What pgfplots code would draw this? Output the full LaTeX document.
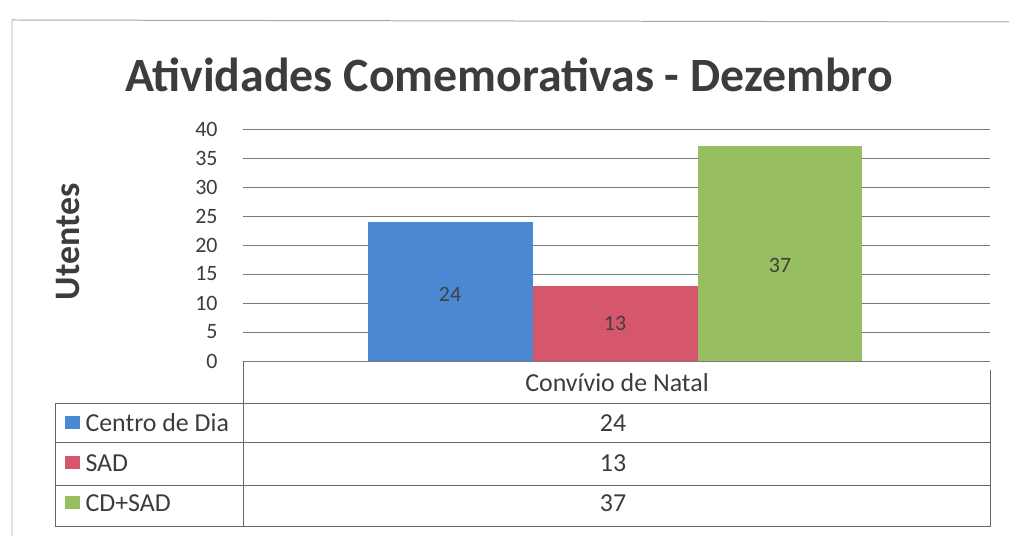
\documentclass[border=0pt]{standalone}
\usepackage{pgfplots}
\pgfplotsset{compat=1.18}
\usepackage{fontspec}
\setmainfont{Carlito}
\definecolor{cdblue}{RGB}{74,136,212}
\definecolor{sadred}{RGB}{214,86,108}
\definecolor{cdsadgreen}{RGB}{152,190,98}
\definecolor{txt}{RGB}{60,60,60}
\definecolor{gridc}{RGB}{120,120,120}
\begin{document}
\begin{tikzpicture}[x=1bp,y=1bp]
\useasboundingbox (0,0) rectangle (1009,536);
% outer frame (scan)
\draw[gray!70, line width=1pt] (12,0) -- (12,516) -- (1009,514);
% title
\node[font=\fontsize{48}{52}\selectfont\bfseries, text=txt] at (509,461) {Atividades Comemorativas - Dezembro};
% y label
\node[font=\fontsize{36}{40}\selectfont\bfseries, text=txt, rotate=90] at (68,294) {Utentes};
\begin{axis}[
  at={(243bp,175bp)}, anchor=south west,
  width=747bp, height=232bp, scale only axis,
  ymin=0, ymax=40, ytick={0,5,...,40},
  xmin=-2.255, xmax=2.273, xtick=\empty,
  ymajorgrids, grid style={gridc, line width=0.9pt},
  axis line style={draw=none}, tick style={draw=none},
  yticklabel style={font=\fontsize{22}{24}\selectfont, text=txt, xshift=-22bp},
  /pgf/number format/assume math mode=true,
  clip=false,
]
\addplot[ybar, bar shift=0pt, bar width=1, fill=cdblue, draw=none] coordinates {(-1,24)};
\addplot[ybar, bar shift=0pt, bar width=1, fill=sadred, draw=none] coordinates {(0,13)};
\addplot[ybar, bar shift=0pt, bar width=1, fill=cdsadgreen, draw=none] coordinates {(1,37)};
\addplot[draw=none, mark=none, nodes near coords, point meta=explicit symbolic,
  nodes near coords style={anchor=center, font=\fontsize{22}{24}\selectfont, text=black!75}]
  coordinates {(-1,11.5)[24] (0,6.5)[13] (1,16.5)[37]};
\end{axis}
% data table
\begin{scope}[gray!80!black, line width=0.9pt]
\draw (243,175) -- (243,9);
\draw (990,166) -- (990,9);
\draw (243,133) -- (990,133);
\draw (55,133) -- (243,133);
\draw (55,94) -- (990,94);
\draw (55,51) -- (990,51);
\draw (55,10) -- (990,10);
\draw (55,133) -- (55,10);
\end{scope}
\node[font=\fontsize{26}{28}\selectfont, text=txt] at (617,153) {Convívio de Natal};
\node[font=\fontsize{26}{28}\selectfont, text=txt] at (613,113) {24};
\node[font=\fontsize{26}{28}\selectfont, text=txt] at (613,73) {13};
\node[font=\fontsize{26}{28}\selectfont, text=txt] at (613,33) {37};
\fill[cdblue] (65,107) rectangle (80,120);
\fill[sadred] (65,67) rectangle (80,80);
\fill[cdsadgreen] (65,27) rectangle (80,40);
\node[font=\fontsize{26}{28}\selectfont, text=txt, anchor=west] at (82,113) {Centro de Dia};
\node[font=\fontsize{26}{28}\selectfont, text=txt, anchor=west] at (82,73) {SAD};
\node[font=\fontsize{26}{28}\selectfont, text=txt, anchor=west] at (82,33) {CD+SAD};
\end{tikzpicture}
\end{document}
